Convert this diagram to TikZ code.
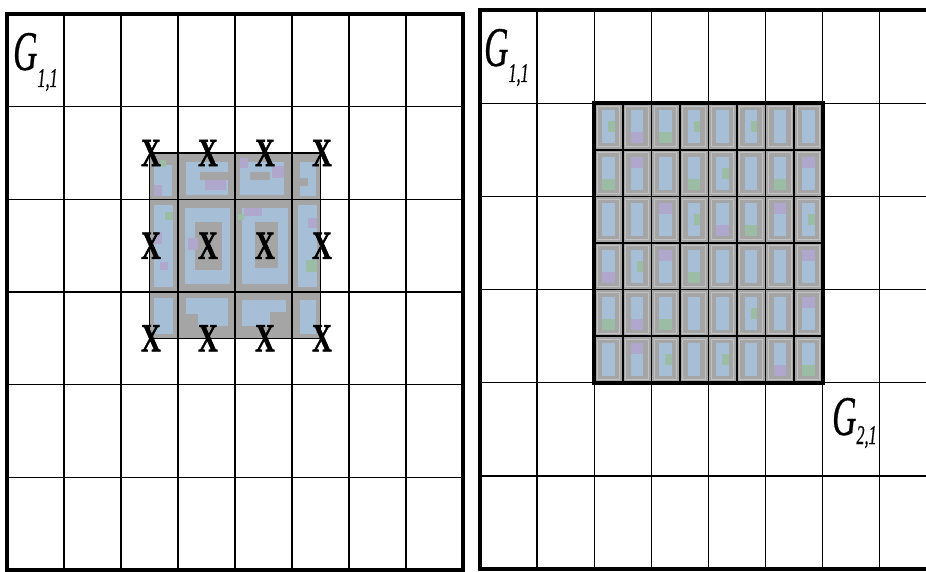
\documentclass[tikz,border=0pt]{standalone}
\usepackage{fontspec}
\setmainfont{Liberation Serif}
\newfontfamily\xfont{Liberation Serif}[BoldFeatures={FakeBold=1.6}]
\newfontfamily\gfont{Liberation Serif}[ItalicFeatures={FakeBold=0.7}]
\definecolor{blkgrey}{HTML}{A5A5A5}
\definecolor{pixblue}{HTML}{A6BFD6}
\definecolor{pixpurple}{HTML}{AFA8CC}
\definecolor{pixgreen}{HTML}{9CBDA5}
\definecolor{halo}{HTML}{C2C2C2}
\tikzset{
 panelframe/.style={draw=black, line width=4pt},
 gridline/.style={draw=black, line width=1.3pt},
 subline/.style={draw=black, line width=1.5pt},
 blockborder/.style={draw=black, line width=4pt},
 thinborder/.style={draw=black, line width=1.5pt},
 xmark/.style={inner sep=0pt, font=\fontsize{40}{40}\xfont\bfseries},
 glabel/.style={inner sep=0pt, anchor=base west},
}
\newcommand{\Glab}[3]{\scalebox{0.6}[1]{\fontsize{56}{56}\gfont\itshape G\hspace{#3}\raisebox{#2}{\fontsize{27}{27}\gfont\itshape #1}}}
\begin{document}
\begin{tikzpicture}[x=1pt,y=-1pt]
\useasboundingbox (0,0) rectangle (926,572);
\fill[white] (0,0) rectangle (926,572);
\begin{scope}
\clip (0,0) rectangle (926,572);

% ---------- left panel ----------
\fill[blkgrey] (149.5,153) rectangle (320.5,338.3);
% top row (half cells)
\fill[pixblue] (154,165) rectangle (172,196);
\fill[pixpurple] (154,185) rectangle (162,196);
\fill[pixgreen] (160,160) rectangle (166,167);
\fill[pixblue] (186,162) rectangle (228,195);
\fill[blkgrey] (200,172) rectangle (228,180);
\fill[pixpurple] (205,180) rectangle (226,190);
\fill[pixblue] (240,162) rectangle (284,195);
\fill[blkgrey] (250,172) rectangle (270,180);
\fill[pixpurple] (272,166) rectangle (284,178);
\fill[pixpurple] (240,158) rectangle (248,168);
\fill[pixblue] (300,162) rectangle (316,196);
\fill[blkgrey] (300,178) rectangle (308,186);
% middle row (full cells)
\fill[pixblue] (154,205) rectangle (173,287);
\fill[pixgreen] (165,212) rectangle (173,220);
\fill[pixpurple] (154,232) rectangle (162,244);
\fill[pixpurple] (160,262) rectangle (168,270);
\fill[pixblue] (185,208) rectangle (230,284);
\fill[blkgrey] (195,222) rectangle (222,270);
\fill[pixpurple] (188,238) rectangle (198,250);
\fill[pixblue] (242,208) rectangle (288,284);
\fill[blkgrey] (255,222) rectangle (278,268);
\fill[pixpurple] (244,208) rectangle (262,216);
\fill[pixgreen] (238,214) rectangle (244,220);
\fill[pixblue] (298,205) rectangle (317,287);
\fill[pixpurple] (308,218) rectangle (317,228);
\fill[pixgreen] (306,260) rectangle (317,272);
% bottom row (half cells)
\fill[pixblue] (154,298) rectangle (173,334);
\fill[pixblue] (186,298) rectangle (228,326);
\fill[blkgrey] (186,314) rectangle (198,326);
\fill[pixblue] (242,300) rectangle (286,326);
\fill[blkgrey] (270,312) rectangle (286,326);
\fill[pixblue] (300,300) rectangle (316,334);
\draw[thinborder] (149.5,153) rectangle (320.5,338.3);

% grid
\foreach \i in {1,...,7} \draw[gridline] ({7+57*\i},14) -- ({7+57*\i},570);
\foreach \j in {1,...,5} \draw[gridline] (7,{14+92.67*\j}) -- (463,{14+92.67*\j});
\draw[panelframe] (7,14) rectangle (463,570);

% X marks at cell centres
\foreach \c [count=\ci] in {151,208,265,322}
  \foreach \r [count=\ri] in {153,245.7,338.3}
    \node[xmark] (x\ci\ri) at (\c,\r) {\scalebox{0.68}[1]{X}};

\node[glabel] (gleft) at (13,70) {\Glab{1,1}{-17pt}{0pt}};

% ---------- right panel ----------
\foreach \i in {1,...,7} \draw[gridline] ({480+57.1*\i},10) -- ({480+57.1*\i},569);
\foreach \j in {1,...,5} \draw[gridline] (480,{10+93.17*\j}) -- (940,{10+93.17*\j});

\fill[blkgrey] (594.2,103.17) rectangle (822.6,382.67);
\pgfmathsetseed{11}
\foreach \i in {0,...,7}{
  \foreach \j in {0,...,5}{
    \pgfmathsetmacro{\xa}{594.2+28.55*\i}
    \pgfmathsetmacro{\ya}{103.17+46.583*\j}
    \draw[halo, line width=1pt] (\xa+3,\ya+3) rectangle (\xa+25.5,\ya+43.5);
    \fill[pixblue] (\xa+8,\ya+7) rectangle (\xa+20.5,\ya+40);
    \pgfmathrandominteger{\k}{0}{6}
    \ifnum\k=0 \fill[pixpurple] (\xa+8,\ya+7) rectangle (\xa+20.5,\ya+18);\fi
    \ifnum\k=1 \fill[pixgreen] (\xa+8,\ya+29) rectangle (\xa+20.5,\ya+40);\fi
    \ifnum\k=2 \fill[pixpurple] (\xa+8,\ya+29) rectangle (\xa+20.5,\ya+40);\fi
    \ifnum\k=3 \fill[pixgreen] (\xa+14,\ya+18) rectangle (\xa+20.5,\ya+29);\fi
  }
}
\foreach \i in {1,...,7} \draw[subline] ({594.2+28.55*\i},103.17) -- ({594.2+28.55*\i},382.67);
\foreach \j in {1,...,5} \draw[subline] (594.2,{103.17+46.583*\j}) -- (822.6,{103.17+46.583*\j});
\draw[blockborder] (594.2,103.17) rectangle (822.6,382.67);

\draw[panelframe] (480,10) rectangle (937,569);

\node[glabel] (gright) at (484,66) {\Glab{1,1}{-16pt}{0pt}};
\node[glabel] (gtwo) at (832,435) {\Glab{2,1}{-9pt}{0pt}};
\end{scope}
\end{tikzpicture}
\end{document}
